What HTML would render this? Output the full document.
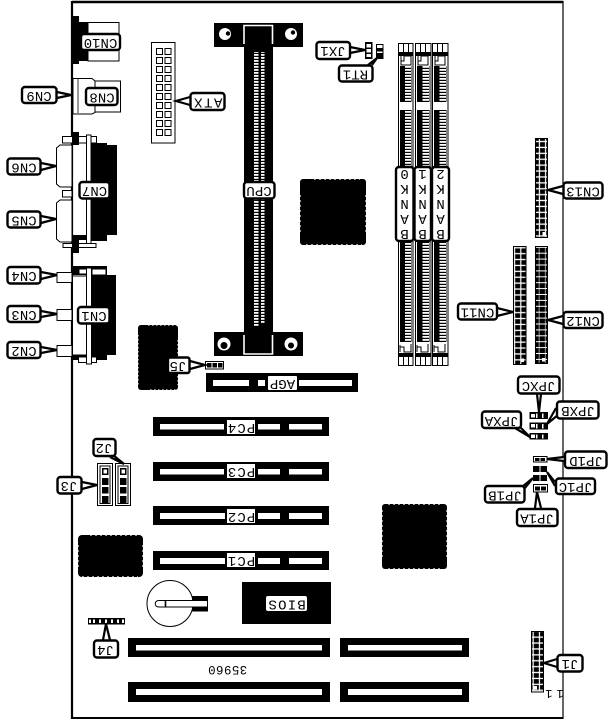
<!DOCTYPE html>
<html><head><meta charset="utf-8"><style>
html,body{margin:0;padding:0;background:#fff}
svg{display:block}
text{font-family:"Liberation Mono",monospace;font-size:14px;letter-spacing:0;text-anchor:middle;dominant-baseline:central;fill:#000}
.l{fill:#fff;stroke:#000;stroke-width:2.4}
.p{fill:#fff;stroke:#000;stroke-width:2.2;stroke-linejoin:miter}
.o{fill:#fff;stroke:#000;stroke-width:1}
.k{fill:#000}.w{fill:#fff}
</style></head><body>
<svg width="611" height="721" viewBox="0 0 611 721" xmlns="http://www.w3.org/2000/svg">
<defs>
<pattern id="pin" width="3" height="3" patternUnits="userSpaceOnUse"><rect width="3" height="1.8" fill="#fff"/></pattern>
<pattern id="g1" x="0" y="0" width="6.2" height="5.9" patternUnits="userSpaceOnUse"><rect width="6.2" height="5.9" fill="#fff"/><rect x=".6" y=".6" width="5" height="4.6" fill="#000"/></pattern>
<pattern id="g2" width="6.2" height="5.9" patternUnits="userSpaceOnUse"><rect width="6.2" height="5.9" fill="#000"/><rect x="0" y="4.9" width="6.2" height="1" fill="#fff"/><rect x="5.6" width=".6" height="5.9" fill="#fff"/></pattern>
</defs>
<!-- board -->
<path d="M72.5 2H563V718H72.5Z" fill="#fff" stroke="none"/>
<path d="M72 2H563" stroke="#000" stroke-width="2.4"/>
<path d="M72 718H563" stroke="#000" stroke-width="2"/>
<path d="M72 1V719" stroke="#000" stroke-width="2.2"/>
<path d="M563 1V719" stroke="#000" stroke-width="1.2"/>

<!-- CN10 -->
<rect class="k" x="72" y="16" width="7" height="48"/>
<rect class="k" x="79" y="22" width="9" height="39"/>
<rect class="o" x="88" y="22.5" width="31" height="38.5"/>
<!-- CN8 -->
<path class="o" d="M73 78.5H92L95 81V112.5L92 114H73Z"/>
<rect class="o" x="95" y="81" width="25.5" height="31"/>
<path d="M78 79V113" stroke="#000" stroke-width=".8"/>
<!-- ATX -->
<rect class="o" x="151.5" y="42.5" width="23.5" height="100.5"/>
<g class="w" stroke="#000" stroke-width="1">
<rect x="156.5" y="48.5" width="6" height="6"/><rect x="165" y="48.5" width="6" height="6"/>
<rect x="156.5" y="57.5" width="6" height="6"/><rect x="165" y="57.5" width="6" height="6"/>
<rect x="156.5" y="66.5" width="6" height="6"/><rect x="165" y="66.5" width="6" height="6"/>
<rect x="156.5" y="75.5" width="6" height="6"/><rect x="165" y="75.5" width="6" height="6"/>
<rect x="156.5" y="84.5" width="6" height="6"/><rect x="165" y="84.5" width="6" height="6"/>
<rect x="156.5" y="93.5" width="6" height="6"/><rect x="165" y="93.5" width="6" height="6"/>
<rect x="156.5" y="102.5" width="6" height="6"/><rect x="165" y="102.5" width="6" height="6"/>
<rect x="156.5" y="111.5" width="6" height="6"/><rect x="165" y="111.5" width="6" height="6"/>
<rect x="156.5" y="120.5" width="6" height="6"/><rect x="165" y="120.5" width="6" height="6"/>
<rect x="156.5" y="129.5" width="6" height="6"/><rect x="165" y="129.5" width="6" height="6"/>
</g>

<!-- CN7 / CN6 / CN5 -->
<rect class="o" x="62.5" y="136.5" width="34" height="6.5"/>
<rect class="k" x="72" y="132" width="7" height="13"/>
<rect class="k" x="90" y="145" width="27" height="90"/>
<rect class="k" x="90" y="235" width="17" height="6"/>
<rect class="k" x="90" y="143" width="17" height="3"/>
<path class="o" d="M72 145H60L56.5 148V184L60 187H72Z"/>
<rect class="o" x="62.5" y="190.5" width="9.5" height="6.5"/>
<path class="o" d="M72 200H60L56.5 203V239L60 242H72Z"/>
<rect class="o" x="86.5" y="135" width="4.5" height="112"/>
<rect class="o" x="63" y="243.5" width="33" height="4"/>
<rect class="k" x="72" y="240" width="7" height="13"/>
<rect class="k" x="73" y="235" width="13" height="5"/>

<!-- CN1 group -->
<rect class="k" x="72" y="266" width="35" height="9"/>
<rect class="o" x="79" y="269" width="8" height="5"/><rect class="o" x="92" y="269" width="14" height="6"/>
<rect class="k" x="90" y="275" width="26" height="80"/>
<rect class="k" x="72" y="355" width="35" height="5"/>
<rect class="o" x="78.5" y="357" width="18" height="5.5"/>
<rect class="o" x="57" y="272.5" width="15" height="10"/>
<rect class="o" x="57" y="309.5" width="15" height="11"/>
<rect class="o" x="57" y="345.5" width="15" height="11"/>
<rect class="o" x="72.5" y="276" width="14" height="79"/>
<rect class="o" x="86.5" y="268" width="5" height="96"/>

<!-- left chip -->
<rect class="k" x="138" y="325" width="40" height="65" rx="3"/>
<path d="M148 325H178M138 335V385M178 340V385M150 390H178" stroke="#fff" stroke-width="1.2" stroke-dasharray="1.5 2.5" fill="none"/>

<!-- CPU -->
<rect class="k" x="214" y="23" width="89" height="24"/>
<rect class="k" x="244" y="47" width="29" height="285"/>
<rect class="k" x="214" y="332" width="89" height="24"/>
<rect x="254" y="52" width="4.5" height="274" fill="url(#pin)"/>
<rect x="261" y="52" width="3.5" height="271" fill="url(#pin)"/>
<path d="M244 44V25.5H272.5V44" fill="none" stroke="#fff" stroke-width="1.6"/>
<path d="M244 335V354H272.5V335" fill="none" stroke="#fff" stroke-width="1.6"/>
<circle cx="225" cy="34" r="6" class="w"/><circle cx="228" cy="33.5" r="2.2" class="k"/>
<circle cx="291" cy="34" r="6" class="w"/><circle cx="293" cy="32.5" r="2.2" class="k"/>
<circle cx="224" cy="344" r="6.5" class="w"/><circle cx="224" cy="345.5" r="3.5" class="k"/>
<circle cx="291" cy="344" r="6.5" class="w"/><circle cx="291" cy="345.5" r="3" class="k"/>

<!-- north chip -->
<rect class="k" x="300" y="179" width="66" height="66" rx="3"/>
<path d="M314 179H360M300 195V235M366 195V235M306 245H362" stroke="#fff" stroke-width="1.2" stroke-dasharray="2 3" fill="none"/>
<!-- south chip -->
<rect class="k" x="382" y="504" width="65" height="65" rx="3"/>
<path d="M388 504H440M382 510V560M447 510V560M388 569H440" stroke="#fff" stroke-width="1.2" stroke-dasharray="2 3" fill="none"/>
<!-- bottom left chip -->
<rect class="k" x="78" y="535" width="65" height="42" rx="4"/>
<path d="M90 535H138M78 545V570M143 545V570M82 577H138" stroke="#fff" stroke-width="1.2" stroke-dasharray="2 3" fill="none"/>

<!-- DIMMs -->
<g>
<rect class="o" x="398.5" y="43.5" width="14.5" height="322"/>
<rect class="k" x="399" y="52" width="14" height="4"/><rect class="k" x="399" y="353" width="14" height="4"/>
<path d="M403.5 44V52M408.5 44V52M403.5 357V365M408.5 357V365" stroke="#000"/>
<rect class="k" x="400" y="66" width="11.5" height="36"/><rect class="k" x="400" y="110" width="11.5" height="232"/>
<rect x="405" y="66" width="6" height="36" fill="url(#pin)"/><rect x="405" y="110" width="6" height="232" fill="url(#pin)"/>
<path d="M401 56V65H411V56H404V61H401" fill="none" stroke="#000"/>
<path d="M400 345V352M411 344V352H404V347H400" fill="none" stroke="#000"/>

<rect class="o" x="415.5" y="43.5" width="15.5" height="322"/>
<rect class="k" x="416" y="52" width="15" height="4"/><rect class="k" x="416" y="353" width="15" height="4"/>
<path d="M420.5 44V52M425.5 44V52M420.5 357V365M425.5 357V365" stroke="#000"/>
<rect class="k" x="417" y="66" width="12.5" height="36"/><rect class="k" x="417" y="110" width="12.5" height="232"/>
<rect x="422.5" y="66" width="6.5" height="36" fill="url(#pin)"/><rect x="422.5" y="110" width="6.5" height="232" fill="url(#pin)"/>
<path d="M418 56V65H428V56H421V61H418" fill="none" stroke="#000"/>
<path d="M417 345V352M428 344V352H421V347H417" fill="none" stroke="#000"/>

<rect class="o" x="432.5" y="43.5" width="15.5" height="322"/>
<rect class="k" x="433" y="52" width="15" height="4"/><rect class="k" x="433" y="353" width="15" height="4"/>
<path d="M437.5 44V52M442.5 44V52M437.5 357V365M442.5 357V365" stroke="#000"/>
<rect class="k" x="434" y="66" width="12.5" height="36"/><rect class="k" x="434" y="110" width="12.5" height="232"/>
<rect x="439.5" y="66" width="6.5" height="36" fill="url(#pin)"/><rect x="439.5" y="110" width="6.5" height="232" fill="url(#pin)"/>
<path d="M435 56V65H445V56H438V61H435" fill="none" stroke="#000"/>
<path d="M434 345V352M445 344V352H438V347H434" fill="none" stroke="#000"/>
</g>
<rect class="l" x="396" y="167" width="17.5" height="74" rx="3"/>
<rect class="l" x="414.5" y="167" width="16.5" height="74" rx="3"/>
<rect class="l" x="432" y="167" width="17" height="74" rx="3"/>
<text transform="rotate(180 404.5 173)" x="404.5" y="173">0</text>
<text transform="rotate(180 404.5 188)" x="404.5" y="188">K</text>
<text transform="rotate(180 404.5 203)" x="404.5" y="203">N</text>
<text transform="rotate(180 404.5 218)" x="404.5" y="218">A</text>
<text transform="rotate(180 404.5 233)" x="404.5" y="233">B</text>
<text transform="rotate(180 422.5 173)" x="422.5" y="173">1</text>
<text transform="rotate(180 422.5 188)" x="422.5" y="188">K</text>
<text transform="rotate(180 422.5 203)" x="422.5" y="203">N</text>
<text transform="rotate(180 422.5 218)" x="422.5" y="218">A</text>
<text transform="rotate(180 422.5 233)" x="422.5" y="233">B</text>
<text transform="rotate(180 440.5 173)" x="440.5" y="173">2</text>
<text transform="rotate(180 440.5 188)" x="440.5" y="188">K</text>
<text transform="rotate(180 440.5 203)" x="440.5" y="203">N</text>
<text transform="rotate(180 440.5 218)" x="440.5" y="218">A</text>
<text transform="rotate(180 440.5 233)" x="440.5" y="233">B</text>

<!-- header connectors -->
<rect x="535" y="138" width="13" height="100" fill="#000"/>
<rect x="536" y="139" width="11" height="98" fill="url(#g1)"/>
<rect x="542.5" y="232" width="3.5" height="3.5" class="w"/>
<rect x="513.5" y="246.5" width="12.5" height="118" class="o"/>
<rect x="514" y="247" width="11.5" height="117" fill="url(#g1)"/>
<rect x="520.5" y="358.5" width="3.5" height="3.5" class="w"/>
<rect x="535" y="246" width="13" height="118" fill="#000"/>
<rect x="536" y="247" width="11" height="116" fill="url(#g2)"/>
<rect x="542" y="358" width="3.5" height="3.5" class="w"/>
<rect x="531.5" y="631.5" width="12" height="60.5" class="o"/>
<rect x="532" y="632" width="11" height="59" fill="url(#g1)"/>
<rect x="533.5" y="686" width="3.5" height="3.5" class="w"/>

<!-- jumpers JPX -->
<g>
<rect class="k" x="529.5" y="412" width="18.5" height="7"/><rect class="w" x="531" y="414" width="4" height="3.5"/><rect class="w" x="536" y="413.5" width="1.5" height="4.5"/><rect class="w" x="542" y="413.5" width="1.5" height="4.5"/>
<rect class="k" x="529.5" y="422.5" width="18.5" height="7"/><rect class="w" x="531" y="424" width="4" height="3.5"/><rect class="w" x="536" y="424" width="1.5" height="4.5"/><rect class="w" x="542" y="424" width="1.5" height="4.5"/>
<rect class="k" x="529.5" y="433" width="18.5" height="6.5"/><rect class="w" x="531" y="434.5" width="4" height="3.5"/><rect class="w" x="536" y="434.5" width="1.5" height="4"/><rect class="w" x="542" y="434.5" width="1.5" height="4"/>
<!-- JP1 -->
<rect class="o" x="533.5" y="456.5" width="13.5" height="5.5"/><rect class="k" x="535" y="458" width="4.5" height="3"/><rect class="k" x="540.5" y="458" width="4.5" height="3"/>
<rect class="k" x="533" y="466" width="14" height="6"/><path d="M540 466V472" stroke="#fff"/>
<rect class="k" x="533" y="475" width="14" height="6"/><path d="M540 475V481" stroke="#fff"/>
<rect class="o" x="533.5" y="484.5" width="14" height="7.5"/><rect class="k" x="535" y="486.5" width="5" height="4"/><rect class="k" x="541" y="486.5" width="5" height="4"/>
<!-- JX1, RT1 -->
<rect class="k" x="365" y="42" width="7.5" height="17"/><rect class="w" x="366.5" y="44" width="4.5" height="3.5"/><rect class="w" x="366.5" y="49" width="4.5" height="3.5"/><rect class="w" x="366.5" y="54" width="4.5" height="3"/>
<rect class="o" x="376.5" y="44.5" width="6.5" height="14"/><rect class="k" x="377" y="48" width="6" height="3.5"/><rect class="k" x="377" y="53" width="6" height="5.5"/>
<!-- J5 -->
<rect class="o" x="205.5" y="361.5" width="18" height="7.5"/><rect class="k" x="207" y="363" width="4.5" height="4.5"/><rect class="k" x="212.5" y="363" width="4.5" height="4.5"/><rect class="k" x="218" y="363" width="4.5" height="4.5"/>
<!-- J4 -->
<rect class="k" x="88" y="618" width="37" height="6.5"/>
<path d="M90 619.5V623M94 619.5V623M100 619.5V623M106 619.5V623M112 619.5V623M118 619.5V623M123 619.5V623" stroke="#fff" stroke-width="2"/>
<!-- J2 J3 -->
<rect x="97.5" y="463.5" width="15" height="42" fill="#fff" stroke="#000"/>
<rect x="100" y="466" width="10" height="37.5" fill="#fff" stroke="#000"/>
<rect x="115.5" y="463.5" width="15" height="42" fill="#fff" stroke="#000"/>
<rect x="118" y="466" width="10" height="37.5" fill="#fff" stroke="#000"/>
<rect class="k" x="102" y="468" width="6.5" height="7"/><rect class="w" x="103.5" y="469.5" width="3.5" height="4"/><rect class="k" x="102" y="478" width="6.5" height="7"/><rect class="k" x="102" y="487" width="6.5" height="6.5"/><rect class="k" x="102" y="496" width="6.5" height="7"/>
<rect class="k" x="120" y="468" width="6.5" height="7"/><rect class="w" x="121.5" y="469.5" width="3.5" height="4"/><rect class="k" x="120" y="478" width="6.5" height="7"/><rect class="k" x="120" y="487" width="6.5" height="6.5"/><rect class="k" x="120" y="496" width="6.5" height="7"/>
</g>

<!-- AGP -->
<rect class="k" x="206" y="373" width="152" height="19"/>
<rect class="w" x="213" y="380" width="36" height="6"/>
<rect class="w" x="258" y="380" width="7" height="6"/>
<rect class="w" x="268" y="376" width="29" height="14" rx="1"/>
<rect class="w" x="299" y="380" width="53" height="6"/>
<text transform="rotate(180 282.5 383)" x="282.5" y="383">AGP</text>

<!-- PCI -->
<g>
<rect class="k" x="153" y="417" width="176" height="19"/><rect class="w" x="160" y="424" width="64" height="5.5"/><rect class="w" x="227" y="420" width="28" height="14"/><rect class="w" x="258" y="424" width="22" height="5.5"/><rect class="w" x="289" y="424" width="33" height="5.5"/>
<rect class="k" x="153" y="462" width="176" height="19"/><rect class="w" x="160" y="469" width="64" height="5.5"/><rect class="w" x="227" y="464" width="28" height="14"/><rect class="w" x="258" y="469" width="22" height="5.5"/><rect class="w" x="289" y="469" width="33" height="5.5"/>
<rect class="k" x="153" y="506" width="176" height="19"/><rect class="w" x="160" y="513" width="65" height="6"/><rect class="w" x="227" y="509" width="28" height="14"/><rect class="w" x="258" y="513" width="22" height="6"/><rect class="w" x="289" y="513" width="33" height="6"/>
<rect class="k" x="153" y="551" width="176" height="19"/><rect class="w" x="160" y="558" width="65" height="6"/><rect class="w" x="227" y="553" width="28" height="14"/><rect class="w" x="258" y="558" width="22" height="6"/><rect class="w" x="289" y="558" width="33" height="6"/>
</g>
<text transform="rotate(180 241 427)" x="241" y="427" style="letter-spacing:1px">PC4</text>
<text transform="rotate(180 241 471)" x="241" y="471" style="letter-spacing:1px">PC3</text>
<text transform="rotate(180 241 516)" x="241" y="516" style="letter-spacing:1px">PC2</text>
<text transform="rotate(180 241 560)" x="241" y="560" style="letter-spacing:1px">PC1</text>

<!-- BIOS -->
<rect class="k" x="242" y="582" width="89" height="42"/>
<rect class="w" x="266" y="596" width="41" height="15" rx="2"/>
<text transform="rotate(180 286.5 603.5)" x="286.5" y="603.5" style="letter-spacing:1.2px">BIOS</text>

<!-- battery -->
<circle cx="170" cy="603.5" r="23" fill="#fff" stroke="#000" stroke-width="1"/>
<rect class="k" x="192" y="596" width="16" height="15.5"/>
<path d="M207.5 600.5H159C154 600.5 154 607 159 607H207.5Z" fill="#fff" stroke="#000" stroke-width="1"/>
<path d="M165.5 600.5V607" stroke="#000" stroke-width="1.6"/>

<!-- ISA -->
<rect class="k" x="128" y="638" width="202" height="19"/><rect class="w" x="136" y="645" width="186" height="5.5"/>
<rect class="k" x="128" y="682" width="202" height="20"/><rect class="w" x="136" y="689" width="186" height="6"/>
<rect class="k" x="340" y="638" width="129" height="19"/><rect class="w" x="348" y="645" width="114" height="5.5"/>
<rect class="k" x="340" y="682" width="129" height="20"/><rect class="w" x="348" y="689" width="114" height="6"/>
<text transform="rotate(180 227.5 669)" x="227.5" y="669" style="font-size:12.5px;letter-spacing:.4px">35960</text>
<text transform="rotate(180 552.5 693)" x="552.5" y="693" style="font-size:12px;letter-spacing:4px">11</text>

<!-- leaders -->
<path class="p" d="M57 92L71 95L57 98"/>
<path class="p" d="M41 163L56 166L41 170"/>
<path class="p" d="M41 216L56 219L41 223"/>
<path class="p" d="M41 272L57 275L41 279"/>
<path class="p" d="M41 311L57 314L41 317"/>
<path class="p" d="M41 347L57 350L41 353"/>
<path class="p" d="M190 97L176 101L190 105"/>
<path class="p" d="M190 361L205 365L190 369"/>
<path class="p" d="M110 457L124 464L113 455"/>
<path class="p" d="M82 482L97 485L82 489"/>
<path class="p" d="M103 640L106 624L110 640"/>
<path class="p" d="M350 47L365 50L350 53"/>
<path class="p" d="M368 65L377 58L372 65"/>
<path class="p" d="M563 186L548 190L563 194"/>
<path class="p" d="M497 308L513 312L497 316"/>
<path class="p" d="M563 316L548 320L563 324"/>
<path class="p" d="M537 394L539 412L541 394"/>
<path class="p" d="M558 415L547 424L556 408"/>
<path class="p" d="M515 428L530 437L519 426"/>
<path class="p" d="M564 457L547 459L564 461"/>
<path class="p" d="M555 482L547 472L555 486"/>
<path class="p" d="M525 488L533 478L522 487"/>
<path class="p" d="M535 508L537 492L541 508"/>
<path class="p" d="M557 659L544 663L557 667"/>

<!-- labels -->
<rect class="l" x="81" y="34" width="39" height="16" rx="3"/><text transform="rotate(180 100.5 42)" x="100.5" y="42">CN10</text>
<rect class="l" x="86" y="88" width="31.5" height="17" rx="3"/><text transform="rotate(180 102 96.5)" x="102" y="96.5">CN8</text>
<rect class="l" x="22" y="87" width="34.5" height="16" rx="3"/><text transform="rotate(180 39 95)" x="39" y="95">CN9</text>
<rect class="l" x="190.5" y="93" width="34" height="17" rx="3"/><text transform="rotate(180 207.5 101.5)" x="207.5" y="101.5" style="letter-spacing:1.5px">ATX</text>
<rect class="l" x="7.5" y="158.5" width="33" height="16" rx="3"/><text transform="rotate(180 24 166.5)" x="24" y="166.5">CN6</text>
<rect class="l" x="7.5" y="211.5" width="33" height="16" rx="3"/><text transform="rotate(180 24 219.5)" x="24" y="219.5">CN5</text>
<rect class="l" x="79.5" y="182" width="30" height="16.5" rx="3"/><text transform="rotate(180 94.5 190)" x="94.5" y="190">CN7</text>
<rect class="l" x="7.5" y="267" width="33" height="16.5" rx="3"/><text transform="rotate(180 24 275)" x="24" y="275">CN4</text>
<rect class="l" x="7.5" y="306" width="33" height="16" rx="3"/><text transform="rotate(180 24 314)" x="24" y="314">CN3</text>
<rect class="l" x="7.5" y="342" width="33" height="16" rx="3"/><text transform="rotate(180 24 350)" x="24" y="350">CN2</text>
<rect class="l" x="78" y="307" width="31.5" height="16.5" rx="3"/><text transform="rotate(180 94 315)" x="94" y="315">CN1</text>
<rect class="l" x="168" y="357.5" width="21.5" height="15.5" rx="2"/><text transform="rotate(180 178 365)" x="178" y="365">J5</text>
<rect class="l" x="93.5" y="439" width="22" height="17" rx="3"/><text transform="rotate(180 104 447)" x="104" y="447">J2</text>
<rect class="l" x="57.5" y="477" width="24" height="16.5" rx="3"/><text transform="rotate(180 69 485)" x="69" y="485">J3</text>
<rect class="l" x="94" y="640.5" width="24" height="17" rx="3"/><text transform="rotate(180 105.5 649)" x="105.5" y="649">J4</text>
<rect class="l" x="244" y="182" width="30.5" height="16.5" rx="3"/><text transform="rotate(180 259 190)" x="259" y="190">CPU</text>
<rect class="l" x="316.5" y="42" width="33.5" height="17" rx="3"/><text transform="rotate(180 333 50)" x="333" y="50">JX1</text>
<rect class="l" x="339" y="65.5" width="33.5" height="16" rx="3"/><text transform="rotate(180 355.5 73.5)" x="355.5" y="73.5">RT1</text>
<rect class="l" x="563.5" y="182.5" width="39" height="16" rx="3"/><text transform="rotate(180 583 190.5)" x="583" y="190.5">CN13</text>
<rect class="l" x="458" y="303.5" width="39" height="16" rx="3"/><text transform="rotate(180 477.5 311.5)" x="477.5" y="311.5">CN11</text>
<rect class="l" x="563.5" y="312" width="39" height="16" rx="3"/><text transform="rotate(180 583 320)" x="583" y="320">CN12</text>
<rect class="l" x="518" y="376.5" width="41.5" height="17" rx="3"/><text transform="rotate(180 538.5 385)" x="538.5" y="385">JPXC</text>
<rect class="l" x="557" y="401.5" width="41.5" height="17" rx="3"/><text transform="rotate(180 578 410)" x="578" y="410">JPXB</text>
<rect class="l" x="482" y="411.5" width="39" height="16.5" rx="3"/><text transform="rotate(180 501.5 420)" x="501.5" y="420">JPXA</text>
<rect class="l" x="565" y="451.5" width="41.5" height="16.5" rx="3"/><text transform="rotate(180 586 460)" x="586" y="460">JP1D</text>
<rect class="l" x="556" y="478.5" width="39" height="15.5" rx="3"/><text transform="rotate(180 575.5 486)" x="575.5" y="486">JP1C</text>
<rect class="l" x="485" y="486" width="39.5" height="16.5" rx="3"/><text transform="rotate(180 505 494.5)" x="505" y="494.5">JP1B</text>
<rect class="l" x="517" y="509" width="40.5" height="17" rx="3"/><text transform="rotate(180 537 517.5)" x="537" y="517.5">JP1A</text>
<rect class="l" x="557.5" y="655" width="25" height="16.5" rx="3"/><text transform="rotate(180 570 663)" x="570" y="663">J1</text>
</svg>
</body></html>
